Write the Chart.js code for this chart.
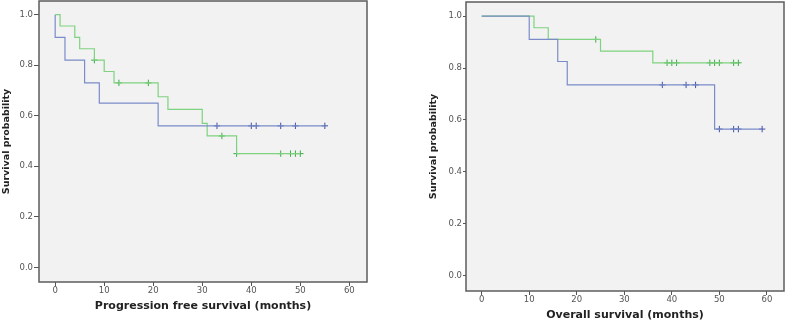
<!DOCTYPE html>
<html>
<head>
<meta charset="utf-8">
<script src="https://cdn.jsdelivr.net/npm/chart.js@4/dist/chart.umd.min.js"></script>
<style>
  html, body { margin: 0; padding: 0; background: #ffffff; }
  #wrap { position: relative; width: 787px; height: 322px; overflow: hidden; }
  canvas { position: absolute; top: 0; }
  #c1 { left: 0; }
  #c2 { left: 380px; }
</style>
</head>
<body>
<div id="wrap">
  <canvas id="c1" width="380" height="322"></canvas>
  <canvas id="c2" width="407" height="322"></canvas>
</div>
<script>
// ---- Data: Progression free survival (left panel) ----
const pfsBlueTimes = [0, 0, 2, 6, 9, 21, 55];
const pfsBlueSurv  = [1.0, 0.91, 0.82, 0.73, 0.65, 0.56, 0.56];
const pfsBlueCensorTimes = [33, 40, 41, 46, 49, 55];
const pfsBlueCensorSurv  = [0.56, 0.56, 0.56, 0.56, 0.56, 0.56];

const pfsGreenTimes = [0, 1, 4, 5, 8, 10, 12, 21, 23, 30, 31, 37, 50];
const pfsGreenSurv  = [1.0, 0.955, 0.91, 0.865, 0.82, 0.775, 0.73, 0.675, 0.625, 0.57, 0.52, 0.45, 0.45];
const pfsGreenCensorTimes = [8, 13, 19, 34, 37, 46, 48, 49, 50];
const pfsGreenCensorSurv  = [0.82, 0.73, 0.73, 0.52, 0.45, 0.45, 0.45, 0.45, 0.45];

// ---- Data: Overall survival (right panel) ----
const osBlueTimes = [0, 10, 16, 18, 49, 59];
const osBlueSurv  = [1.0, 0.91, 0.825, 0.735, 0.565, 0.565];
const osBlueCensorTimes = [38, 43, 45, 50, 53, 54, 59];
const osBlueCensorSurv  = [0.735, 0.735, 0.735, 0.565, 0.565, 0.565, 0.565];

const osGreenTimes = [0, 11, 14, 25, 36, 54];
const osGreenSurv  = [1.0, 0.955, 0.91, 0.865, 0.82, 0.82];
const osGreenCensorTimes = [24, 39, 40, 41, 48, 49, 50, 53, 54];
const osGreenCensorSurv  = [0.91, 0.82, 0.82, 0.82, 0.82, 0.82, 0.82, 0.82, 0.82];

// ---- Axis ticks and labels ----
const xTickValues = [0, 10, 20, 30, 40, 50, 60];
const yTickValues = [0, 0.2, 0.4, 0.6, 0.8, 1.0];
const yTickLabels = ['0.0', '0.2', '0.4', '0.6', '0.8', '1.0'];
const yAxisTitle = 'Survival probability';
const pfsXTitle = 'Progression free survival (months)';
const osXTitle = 'Overall survival (months)';

// ---- Styles ----
const BLUE_LINE = '#7b8cc9';
const BLUE_MARK = '#3f51a3';
const GREEN_LINE = '#7fd27f';
const GREEN_MARK = '#3aad45';

function pts(xs, ys) { return xs.map((x, i) => ({ x: x, y: ys[i] })); }

const frame = {
  id: 'frame',
  beforeDatasetsDraw(chart) {
    const a = chart.chartArea, ctx = chart.ctx;
    ctx.save();
    ctx.fillStyle = '#f2f2f2';
    ctx.fillRect(a.left, a.top, a.right - a.left, a.bottom - a.top);
    ctx.restore();
  },
  afterDatasetsDraw(chart) {
    const a = chart.chartArea, ctx = chart.ctx;
    ctx.save();
    ctx.strokeStyle = '#5c5c5c';
    ctx.lineWidth = 1.5;
    ctx.strokeRect(a.left, a.top, a.right - a.left, a.bottom - a.top);
    ctx.restore();
  }
};

function makeChart(id, d, cfg) {
  const datasets = [
    { type: 'line', data: pts(d.bt, d.bs), borderColor: BLUE_LINE, borderWidth: 1.2,
      stepped: 'before', pointRadius: 0, fill: false },
    { type: 'line', data: pts(d.gt, d.gs), borderColor: GREEN_LINE, borderWidth: 1.2,
      stepped: 'before', pointRadius: 0, fill: false },
    { type: 'scatter', data: pts(d.bct, d.bcs), pointStyle: 'cross', pointRadius: 3.2,
      borderColor: BLUE_MARK, backgroundColor: BLUE_MARK, borderWidth: 1, showLine: false },
    { type: 'scatter', data: pts(d.gct, d.gcs), pointStyle: 'cross', pointRadius: 3.2,
      borderColor: GREEN_MARK, backgroundColor: GREEN_MARK, borderWidth: 1, showLine: false }
  ];
  return new Chart(document.getElementById(id), {
    type: 'line',
    data: { datasets: datasets },
    plugins: [frame],
    options: {
      responsive: false,
      animation: false,
      events: [],
      layout: { padding: cfg.padding, autoPadding: false },
      plugins: { legend: { display: false }, tooltip: { enabled: false } },
      scales: {
        x: {
          type: 'linear', min: -3.3, max: 63.6,
          afterBuildTicks(s) { s.ticks = xTickValues.map(v => ({ value: v })); },
          afterFit(s) { s.height = cfg.xHeight; s.paddingLeft = 0; s.paddingRight = 0; },
          grid: { display: true, drawOnChartArea: false, drawTicks: true, tickLength: cfg.xTickLen, color: '#555', lineWidth: 1 },
          border: { display: false },
          ticks: { padding: 0, color: '#555', font: { family: 'DejaVu Sans', size: 8.5 }, maxRotation: 0,
                   callback: v => String(v) },
          title: { display: true, text: cfg.xTitle, color: '#222',
                   font: { family: 'DejaVu Sans', size: 11, weight: 'bold' },
                   padding: { top: 0, bottom: cfg.xTitlePadBottom } }
        },
        y: {
          type: 'linear', min: -0.058, max: 1.054,
          afterBuildTicks(s) { s.ticks = yTickValues.map(v => ({ value: v })); },
          afterFit(s) { s.width = cfg.yWidth; s.paddingTop = 0; s.paddingBottom = 0; },
          grid: { display: true, drawOnChartArea: false, drawTicks: true, tickLength: cfg.yTickLen, color: '#555', lineWidth: 1 },
          border: { display: false },
          ticks: { padding: 1, color: '#555', font: { family: 'DejaVu Sans', size: 8.5 },
                   callback: (v) => { const i = yTickValues.findIndex(t => Math.abs(t - v) < 1e-9); return i >= 0 ? yTickLabels[i] : ''; } },
          title: { display: true, text: yAxisTitle, color: '#222',
                   font: { family: 'DejaVu Sans', size: 9.5, weight: 'bold' },
                   padding: { top: 1, bottom: 0 } }
        }
      }
    }
  });
}

makeChart('c1', {
  bt: pfsBlueTimes, bs: pfsBlueSurv, gt: pfsGreenTimes, gs: pfsGreenSurv,
  bct: pfsBlueCensorTimes, bcs: pfsBlueCensorSurv, gct: pfsGreenCensorTimes, gcs: pfsGreenCensorSurv
}, {
  padding: { left: 0, right: 13, top: 1, bottom: 0 },
  xHeight: 40, yWidth: 39, xTickLen: 4, yTickLen: 5, xTitle: pfsXTitle, xTitlePadBottom: 9
});

makeChart('c2', {
  bt: osBlueTimes, bs: osBlueSurv, gt: osGreenTimes, gs: osGreenSurv,
  bct: osBlueCensorTimes, bcs: osBlueCensorSurv, gct: osGreenCensorTimes, gcs: osGreenCensorSurv
}, {
  padding: { left: 47, right: 3, top: 2, bottom: 0 },
  xHeight: 31, yWidth: 39, xTickLen: 4, yTickLen: 3, xTitle: osXTitle, xTitlePadBottom: 0
});
</script>
</body>
</html>
